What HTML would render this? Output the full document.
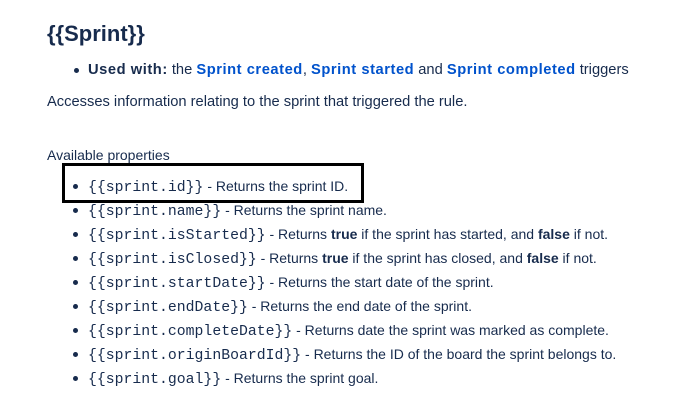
<!DOCTYPE html>
<html><head><style>
body{margin:0;width:676px;height:412px;background:#fff;font-family:"Liberation Sans",sans-serif;color:#172b4d;position:relative;overflow:hidden}
.a{position:absolute;white-space:nowrap;font-size:14px;line-height:18px}
.w{font-size:14.7px}
.w b,.w a{letter-spacing:0.55px}
h1{position:absolute;left:47px;top:20px;margin:0;font-size:22px;font-weight:bold;line-height:28px}
.b{position:absolute;width:5px;height:5px;border-radius:50%;background:#172b4d}
code{font-family:"Liberation Mono",monospace;font-size:14.8px}
a{color:#0052cc;font-weight:bold;text-decoration:none}
.box{position:absolute;left:62px;top:163px;width:296px;height:34px;border:3px solid #000}
</style></head><body>
<h1>{{Sprint}}</h1>
<div class="b" style="left:74px;top:68px"></div>
<div class="a w" style="left:88px;top:61px"><b>Used with:</b> the <a>Sprint created</a>, <a>Sprint started</a> and <a>Sprint completed</a> triggers</div>
<div class="a w" style="left:47px;top:93px">Accesses information relating to the sprint that triggered the rule.</div>
<div class="a" style="left:47px;top:146px">Available properties</div>
<div class="box"></div>
<div class="b" style="left:73px;top:184px"></div><div class="a" style="left:88px;top:177px"><code>{{sprint.id}}</code> - Returns the sprint ID.</div>
<div class="b" style="left:73px;top:208px"></div><div class="a" style="left:88px;top:201px"><code>{{sprint.name}}</code> - Returns the sprint name.</div>
<div class="b" style="left:73px;top:232px"></div><div class="a" style="left:88px;top:225px"><code>{{sprint.isStarted}}</code> - Returns <b>true</b> if the sprint has started, and <b>false</b> if not.</div>
<div class="b" style="left:73px;top:256px"></div><div class="a" style="left:88px;top:249px"><code>{{sprint.isClosed}}</code> - Returns <b>true</b> if the sprint has closed, and <b>false</b> if not.</div>
<div class="b" style="left:73px;top:280px"></div><div class="a" style="left:88px;top:273px"><code>{{sprint.startDate}}</code> - Returns the start date of the sprint.</div>
<div class="b" style="left:73px;top:304px"></div><div class="a" style="left:88px;top:297px"><code>{{sprint.endDate}}</code> - Returns the end date of the sprint.</div>
<div class="b" style="left:73px;top:328px"></div><div class="a" style="left:88px;top:321px"><code>{{sprint.completeDate}}</code> - Returns date the sprint was marked as complete.</div>
<div class="b" style="left:73px;top:352px"></div><div class="a" style="left:88px;top:345px"><code>{{sprint.originBoardId}}</code> - Returns the ID of the board the sprint belongs to.</div>
<div class="b" style="left:73px;top:376px"></div><div class="a" style="left:88px;top:369px"><code>{{sprint.goal}}</code> - Returns the sprint goal.</div>
</body></html>
